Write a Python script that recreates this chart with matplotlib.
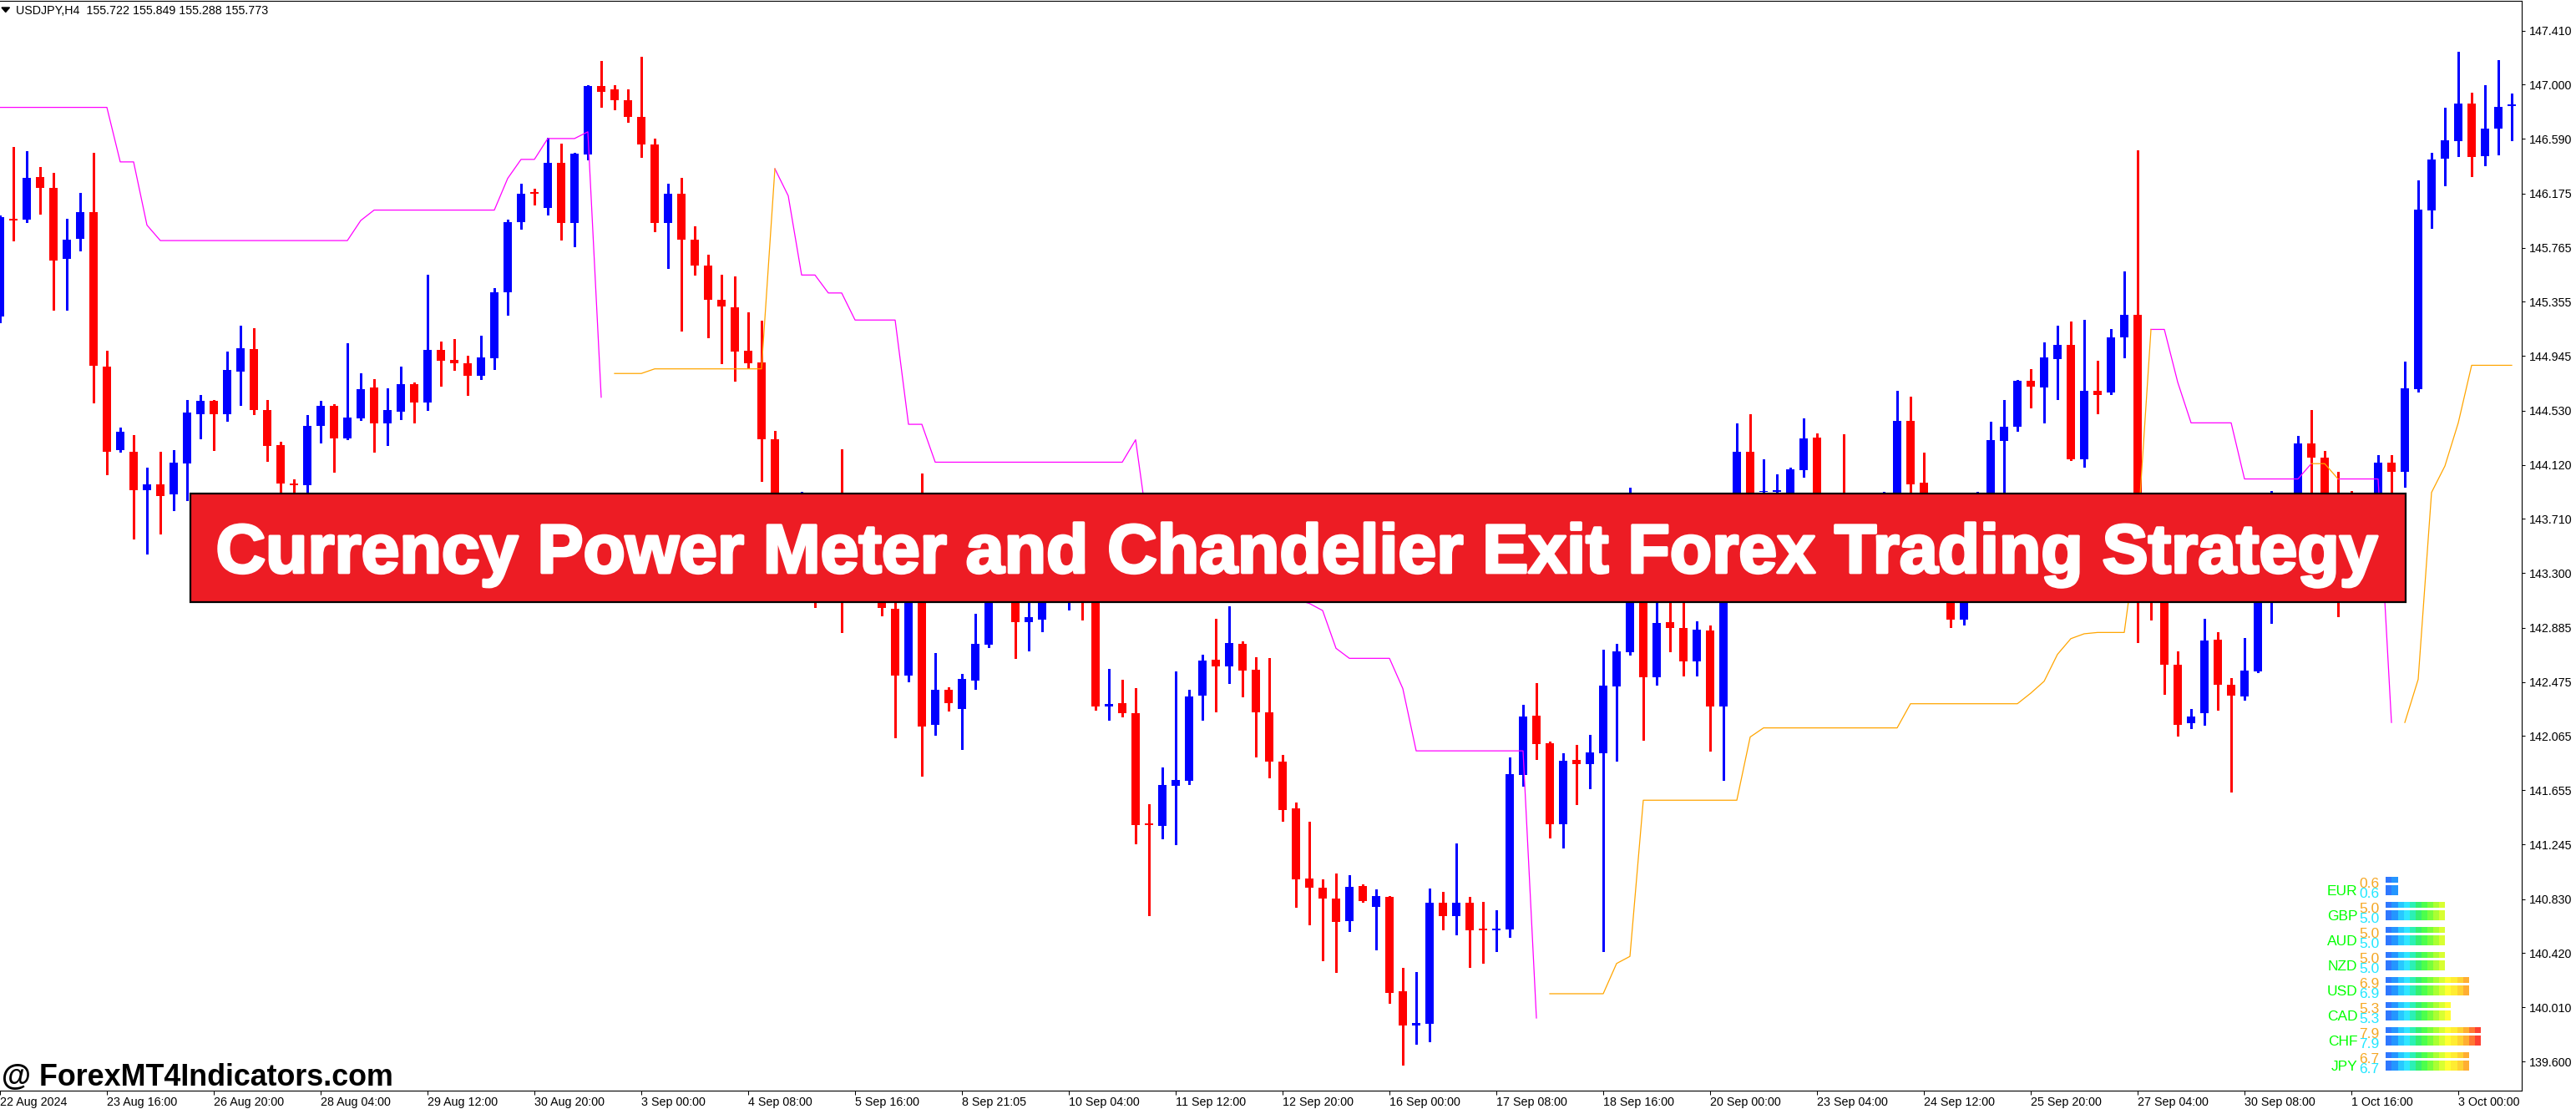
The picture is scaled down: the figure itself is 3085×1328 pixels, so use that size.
import math
import numpy as np
import matplotlib
matplotlib.use("Agg")
import matplotlib.pyplot as plt
from matplotlib.patches import Rectangle, Polygon
import matplotlib.patheffects as pe

plt.rcParams['font.family'] = ['Liberation Sans', 'DejaVu Sans']

nan = float('nan')

# ---------------- data ----------------
symbol_header = "USDJPY,H4  155.722 155.849 155.288 155.773"
title = "Currency Power Meter and Chandelier Exit Forex Trading Strategy"
watermark = "@ ForexMT4Indicators.com"

bar_index = list(range(-1, 188))

opens = [145.246, 145.987, 145.979, 146.301, 146.218, 145.678, 145.829, 146.034, 144.866, 144.234,
         144.218, 143.926, 143.971, 143.894, 144.133, 144.506, 144.602, 144.506, 144.828, 144.996,
         144.535, 144.269, 143.976, 143.968, 144.413, 144.567, 144.322, 144.469, 144.706, 144.437,
         144.525, 144.732, 144.589, 144.991, 144.916, 144.889, 144.796, 144.927, 145.425, 145.957,
         146.183, 146.065, 146.409, 145.950, 146.474, 146.991, 146.962, 146.880, 146.754, 146.546,
         145.950, 146.176, 145.824, 145.627, 145.368, 145.314, 144.987, 144.894, 144.312, 143.65,
         143.55, 143.70, 143.35, 143.60, 143.40, 143.55, 143.35, 143.03, 142.521, 143.30,
         142.147, 142.416, 142.273, 142.488, 142.758, 143.20, 143.30, 142.925, 142.950, 143.30,
         143.20, 143.70, 143.50, 142.286, 142.314, 142.239, 141.405, 141.386, 141.691, 141.723,
         142.374, 142.642, 142.595, 142.761, 142.566, 142.242, 141.874, 141.515, 140.986, 140.914,
         140.832, 140.665, 140.929, 140.772, 140.845, 140.130, 139.875, 139.888, 140.804, 140.703,
         140.804, 140.608, 140.596, 140.602, 141.773, 142.220, 142.011, 141.394, 141.882, 141.850,
         141.938, 142.442, 142.703, 143.50, 142.508, 142.927, 142.883, 142.628, 142.864, 142.291,
         143.50, 144.217, 143.912, 143.912, 143.70, 144.079, 144.327, 143.60, 143.70, 143.40,
         143.70, 143.50, 143.60, 144.453, 143.984, 143.50, 143.30, 142.949, 143.50, 143.70,
         144.302, 144.406, 144.755, 144.708, 144.924, 145.030, 144.165, 144.681, 144.667, 145.084,
         145.255, 143.30, 143.10, 142.604, 142.161, 142.240, 142.796, 142.451, 142.368, 142.556,
         143.30, 143.70, 143.60, 144.282, 144.173, 143.60, 143.50, 143.20, 143.60, 144.136,
         144.064, 144.696, 146.050, 146.442, 146.570, 146.857, 146.457, 146.668, 146.835]

highs = [146.011, 146.527, 146.495, 146.375, 146.335, 145.981, 146.181, 146.484, 144.985, 144.402,
         144.346, 144.099, 144.218, 144.232, 144.612, 144.652, 144.612, 144.977, 145.174, 145.156,
         144.612, 144.296, 144.011, 144.498, 144.605, 144.578, 145.044, 144.815, 144.770, 144.700,
         144.866, 144.746, 145.563, 145.055, 145.073, 144.945, 145.097, 145.459, 145.979, 146.248,
         146.212, 146.600, 146.553, 146.481, 146.995, 147.178, 146.995, 146.966, 147.210, 146.589,
         146.248, 146.294, 145.925, 145.709, 145.558, 145.548, 145.275, 145.214, 144.377, 143.85,
         143.914, 143.85, 143.75, 144.237, 143.70, 143.80, 143.60, 143.20, 143.50, 144.057,
         142.693, 142.434, 142.539, 142.991, 143.50, 143.60, 143.60, 143.10, 143.50, 143.70,
         143.80, 143.85, 143.70, 142.573, 142.491, 142.428, 141.550, 141.827, 142.554, 142.415,
         142.680, 142.953, 143.048, 142.783, 142.664, 142.658, 141.921, 141.562, 141.414, 140.980,
         141.024, 141.011, 140.942, 140.904, 140.854, 140.309, 140.275, 140.911, 140.885, 141.251,
         140.845, 140.810, 140.747, 141.905, 142.302, 142.469, 142.026, 141.932, 142.001, 142.074,
         142.719, 142.763, 143.946, 143.70, 143.20, 143.20, 143.20, 142.933, 142.901, 143.60,
         144.434, 144.504, 144.160, 144.047, 144.10, 144.469, 144.356, 143.85, 144.353, 143.85,
         143.85, 143.915, 144.680, 144.636, 144.211, 143.70, 143.60, 143.70, 143.915, 144.447,
         144.611, 144.765, 144.844, 145.048, 145.175, 145.204, 145.219, 144.906, 145.150, 145.585,
         146.504, 143.60, 143.30, 142.705, 142.270, 142.952, 142.851, 142.502, 142.807, 143.50,
         143.922, 143.85, 144.336, 144.536, 144.227, 144.067, 143.922, 143.80, 144.194, 144.194,
         144.899, 146.272, 146.482, 146.827, 147.252, 146.940, 146.995, 147.187, 146.936]

lows = [145.20, 145.821, 145.960, 146.021, 145.292, 145.292, 145.744, 144.594, 144.045, 144.221,
        143.561, 143.446, 143.601, 143.774, 143.854, 144.317, 144.234, 144.450, 144.573, 144.506,
        144.152, 143.918, 143.902, 143.912, 144.290, 144.064, 144.312, 144.460, 144.221, 144.272,
        144.463, 144.442, 144.538, 144.719, 144.836, 144.652, 144.770, 144.844, 145.254, 145.907,
        146.090, 146.018, 145.828, 145.774, 146.435, 146.833, 146.812, 146.715, 146.449, 145.892,
        145.612, 145.135, 145.562, 145.088, 144.887, 144.754, 144.858, 143.996, 143.55, 143.45,
        143.40, 143.045, 143.20, 142.855, 143.25, 143.30, 142.980, 142.057, 142.481, 141.767,
        142.075, 142.255, 141.964, 142.420, 142.74, 143.10, 142.653, 142.714, 142.856, 143.15,
        143.026, 142.950, 142.261, 142.189, 142.211, 141.251, 140.709, 141.291, 141.244, 141.700,
        142.185, 142.252, 142.469, 142.362, 141.912, 141.751, 141.424, 140.772, 140.637, 140.363,
        140.275, 140.586, 140.807, 140.448, 140.045, 139.576, 139.733, 139.755, 140.599, 140.564,
        140.316, 140.347, 140.438, 140.542, 141.688, 141.890, 141.293, 141.217, 141.548, 141.671,
        140.437, 141.878, 142.680, 142.036, 142.455, 142.709, 142.524, 142.521, 141.954, 141.734,
        143.30, 143.30, 143.50, 143.60, 143.50, 144.031, 143.40, 143.30, 143.30, 143.30,
        143.35, 143.40, 143.50, 143.70, 143.30, 143.10, 142.892, 142.908, 143.30, 143.60,
        143.85, 144.378, 144.554, 144.441, 144.616, 144.158, 144.107, 144.507, 144.656, 144.935,
        142.774, 142.949, 142.386, 142.066, 142.124, 142.150, 142.266, 141.641, 142.342, 142.546,
        142.923, 143.30, 143.50, 143.85, 143.30, 142.974, 143.10, 143.10, 143.40, 143.80,
        143.951, 144.674, 145.912, 146.235, 146.461, 146.304, 146.392, 146.468, 146.577]

closes = [145.997, 145.973, 146.295, 146.216, 145.670, 145.827, 146.034, 144.868, 144.221, 144.370,
          143.926, 143.971, 143.886, 144.136, 144.517, 144.605, 144.506, 144.839, 145.004, 144.533,
          144.266, 143.976, 143.963, 144.415, 144.567, 144.322, 144.479, 144.692, 144.437, 144.535,
          144.732, 144.594, 144.991, 144.911, 144.892, 144.796, 144.935, 145.427, 145.960, 146.176,
          146.176, 146.409, 145.950, 146.478, 146.991, 146.948, 146.880, 146.754, 146.546, 145.950,
          146.176, 145.824, 145.627, 145.368, 145.318, 144.980, 144.887, 144.312, 143.65, 143.55,
          143.70, 143.35, 143.60, 143.40, 143.55, 143.45, 143.034, 142.521, 143.30, 142.140,
          142.416, 142.312, 142.499, 142.765, 143.20, 143.40, 142.926, 142.966, 143.30, 143.50,
          143.60, 143.40, 142.286, 142.305, 142.236, 141.392, 141.389, 141.694, 141.732, 142.365,
          142.635, 142.595, 142.771, 142.563, 142.242, 141.874, 141.505, 140.977, 140.914, 140.835,
          140.659, 140.923, 140.813, 140.851, 140.121, 139.875, 139.891, 140.804, 140.700, 140.804,
          140.596, 140.596, 140.608, 141.776, 142.214, 142.006, 141.400, 141.878, 141.850, 141.942,
          142.445, 142.706, 143.50, 142.508, 142.920, 142.886, 142.628, 142.870, 142.291, 143.40,
          144.217, 143.50, 143.921, 143.928, 144.085, 144.321, 143.60, 143.40, 143.50, 143.70,
          143.50, 143.80, 144.453, 143.975, 143.50, 143.30, 142.949, 143.50, 143.70, 144.305,
          144.409, 144.755, 144.714, 144.935, 145.030, 144.165, 144.681, 144.652, 145.084, 145.255,
          143.30, 143.10, 142.604, 142.150, 142.211, 142.789, 142.455, 142.371, 142.560, 143.30,
          143.70, 143.50, 144.282, 144.173, 143.50, 143.30, 143.20, 143.60, 144.136, 144.064,
          144.699, 146.054, 146.432, 146.577, 146.857, 146.450, 146.668, 146.831, 146.849]

# Chandelier exit: short stop (magenta) and long stop (orange)
stop_short = [146.828, 146.828, 146.828, 146.828, 146.828, 146.828, 146.828, 146.828, 146.828, 146.415,
              146.415, 145.936, 145.819, 145.819, 145.819, 145.819, 145.819, 145.819, 145.819, 145.819,
              145.819, 145.819, 145.819, 145.819, 145.819, 145.819, 145.819, 145.971, 146.050, 146.050,
              146.050, 146.050, 146.050, 146.050, 146.050, 146.050, 146.050, 146.050, 146.290, 146.434,
              146.434, 146.592, 146.592, 146.592, 146.643, 144.632, nan, nan, nan, nan,
              nan, nan, nan, nan, nan, nan, nan, nan, 146.363, 146.158,
              145.558, 145.558, 145.422, 145.422, 145.217, 145.217, 145.217, 145.217, 144.427, 144.427,
              144.140, 144.140, 144.140, 144.140, 144.140, 144.140, 144.140, 144.140, 144.140, 144.140,
              144.140, 144.140, 144.140, 144.140, 144.140, 144.31, 143.58, 143.50, 143.45, 143.45,
              143.40, 143.40, 143.35, 143.30, 143.30, 143.20, 143.15, 143.10, 143.07, 143.016,
              142.730, 142.654, 142.654, 142.654, 142.654, 142.425, 141.953, 141.953, 141.953, 141.953,
              141.953, 141.953, 141.953, 141.953, 141.953, 139.929, nan, nan, nan, nan,
              nan, nan, nan, nan, nan, nan, nan, nan, nan, nan,
              nan, nan, nan, nan, nan, nan, nan, nan, nan, nan,
              nan, nan, nan, nan, nan, nan, nan, nan, nan, nan,
              nan, nan, nan, nan, nan, nan, nan, nan, nan, nan,
              nan, 145.146, 145.146, 144.746, 144.438, 144.438, 144.438, 144.438, 144.013, 144.013,
              144.013, 144.013, 144.013, 144.129, nan, 144.013, 144.013, 144.013, 144.013, 142.168,
              nan, nan, nan, nan, nan, nan, nan, nan, nan]

stop_long = [nan, nan, nan, nan, nan, nan, nan, nan, nan, nan,
             nan, nan, nan, nan, nan, nan, nan, nan, nan, nan,
             nan, nan, nan, nan, nan, nan, nan, nan, nan, nan,
             nan, nan, nan, nan, nan, nan, nan, nan, nan, nan,
             nan, nan, nan, nan, nan, nan, 144.812, 144.812, 144.812, 144.847,
             144.847, 144.847, 144.847, 144.847, 144.847, 144.847, 144.847, 144.847, 146.363, nan,
             nan, nan, nan, nan, nan, nan, nan, nan, nan, nan,
             nan, nan, nan, nan, nan, nan, nan, nan, nan, nan,
             nan, nan, nan, nan, nan, nan, nan, nan, nan, nan,
             nan, nan, nan, nan, nan, nan, nan, nan, nan, nan,
             nan, nan, nan, nan, nan, nan, nan, nan, nan, nan,
             nan, nan, nan, nan, nan, nan, 140.113, 140.113, 140.113, 140.113,
             140.113, 140.342, 140.396, 141.579, 141.579, 141.579, 141.579, 141.579, 141.579, 141.579,
             141.579, 142.058, 142.127, 142.127, 142.127, 142.127, 142.127, 142.127, 142.127, 142.127,
             142.127, 142.127, 142.127, 142.310, 142.310, 142.310, 142.310, 142.310, 142.310, 142.310,
             142.310, 142.310, 142.39, 142.48, 142.684, 142.803, 142.84, 142.850, 142.850, 142.850,
             143.60, 145.146, nan, nan, nan, nan, nan, nan, nan, nan,
             nan, nan, nan, 144.129, 144.129, 144.013, nan, nan, nan, nan,
             142.168, 142.495, 143.911, 144.111, 144.438, 144.874, 144.874, 144.874, 144.874]

time_labels = ["22 Aug 2024", "23 Aug 16:00", "26 Aug 20:00", "28 Aug 04:00", "29 Aug 12:00",
               "30 Aug 20:00", "3 Sep 00:00", "4 Sep 08:00", "5 Sep 16:00", "8 Sep 21:05",
               "10 Sep 04:00", "11 Sep 12:00", "12 Sep 20:00", "16 Sep 00:00", "17 Sep 08:00",
               "18 Sep 16:00", "20 Sep 00:00", "23 Sep 04:00", "24 Sep 12:00", "25 Sep 20:00",
               "27 Sep 04:00", "30 Sep 08:00", "1 Oct 16:00", "3 Oct 00:00"]

price_ticks = [147.410, 147.000, 146.590, 146.175, 145.765, 145.355, 144.945, 144.530, 144.120,
               143.710, 143.300, 142.885, 142.475, 142.065, 141.655, 141.245, 140.830, 140.420,
               140.010, 139.600]

currencies = ["EUR", "GBP", "AUD", "NZD", "USD", "CAD", "CHF", "JPY"]
strength_prev = [0.6, 5.0, 5.0, 5.0, 6.9, 5.3, 7.9, 6.7]
strength_now = [0.6, 5.0, 5.0, 5.0, 6.9, 5.3, 7.9, 6.7]

meter_colors = ['#2F78FF', '#2496FF', '#28C8FF', '#30E6FF', '#2CF0B4', '#34F070',
                '#4CFF4C', '#78FF3C', '#AAFF32', '#D8FF32', '#FFFF32', '#FFEC32',
                '#FFD232', '#FFAE32', '#FF7832', '#FF4032']

# ---------------- figure ----------------
W, H, DPI = 3085, 1328, 100
fig = plt.figure(figsize=(W / DPI, H / DPI), dpi=DPI, facecolor='white')


def box(x0, y0, x1, y1):
    return [x0 / W, 1 - y1 / H, (x1 - x0) / W, (y1 - y0) / H]


ax = fig.add_axes(box(0, 0.5, 3020, 1305.5))
ax.set_facecolor('white')

x = np.array(bar_index, dtype=float)
o = np.array(opens)
hi = np.array(highs)
lo = np.array(lows)
c = np.array(closes)
col = np.where(c >= o, '#0000FF', '#FF0000')

ax.vlines(x, lo, hi, colors=col, linewidth=0.85, zorder=2, antialiased=False)
ax.bar(x, np.maximum(np.abs(c - o), 0.009), bottom=np.minimum(o, c), width=0.68,
       color=col, linewidth=0, zorder=3, antialiased=False)
ax.plot(x, stop_short, color='#FF00FF', lw=0.9, zorder=4)
ax.plot(x, stop_long, color='#FFA500', lw=0.9, zorder=4)

bar_px = 16.008
first_px = 14.5
ax.set_xlim(-first_px / bar_px, (3020 - first_px) / bar_px)
px_per_price = 158.06
ax.set_ylim(147.41 - (1305.5 - 36.6) / px_per_price, 147.41 + (36.6 - 0.5) / px_per_price)

ax.yaxis.tick_right()
ax.set_yticks(price_ticks)
ax.set_yticklabels([f"{v:.3f}" for v in price_ticks])
ax.set_xticks(bar_index[::8])
ax.set_xticklabels(time_labels, ha='left')
ax.tick_params(axis='y', direction='out', length=3, width=0.75, pad=3.4,
               labelsize=10.3, right=True, left=False, colors='black')
ax.tick_params(axis='x', direction='out', length=3.7, width=0.75, pad=1.6,
               labelsize=10.3, colors='black')
for s in ['top', 'right', 'bottom']:
    ax.spines[s].set_linewidth(0.8)
    ax.spines[s].set_color('black')
ax.spines['left'].set_visible(False)

# overlay in pixel coordinates
ov = fig.add_axes([0, 0, 1, 1], zorder=10)
ov.set_xlim(0, W)
ov.set_ylim(H, 0)
ov.axis('off')

ov.add_patch(Polygon([[2, 9], [11.5, 9], [6.75, 14.5]], closed=True, color='black'))
ov.text(19, 17.3, symbol_header, fontsize=10.3, ha='left', va='baseline', color='black')

ov.add_patch(Rectangle((228, 591), 2653, 130, facecolor='#ED1C24', edgecolor='black',
                       linewidth=1.6, zorder=2))
tt = ov.text(1554.5, 685.7, title, color='white', fontsize=50, fontweight='bold',
             ha='center', va='baseline', zorder=3,
             path_effects=[pe.withStroke(linewidth=2.4, foreground='white')])
wm = ov.text(2, 1300, watermark, fontsize=20, fontweight='bold', ha='left',
             va='baseline', color='black', zorder=3)

fig.canvas.draw()
r = fig.canvas.get_renderer()
tt.set_fontsize(50 * 2590 / tt.get_window_extent(r).width)
wm.set_fontsize(20 * 469 / wm.get_window_extent(r).width)

# currency power meter
mx = fig.add_axes(box(2857.3, 1045, 2857.3 + 142, 1285), zorder=11)
mx.set_xlim(0, 10)
mx.set_ylim(8, 0)
mx.axis('off')
for i, (vp, vn) in enumerate(zip(strength_prev, strength_now)):
    for val, off, hh in ((vp, 5 / 30, 6.7 / 30), (vn, 15 / 30, 11.7 / 30)):
        n = math.ceil(val * 2 - 1e-9)
        mx.barh(np.full(n, i + off), np.full(n, 0.5), left=np.arange(n) * 0.5, height=hh,
                align='edge', color=meter_colors[:n], linewidth=0)

for i, name in enumerate(currencies):
    yb = 1050 + 30 * i
    ov.text(2823.5, yb + 22.3, name, color='#00FF00', fontsize=12.5, ha='right', va='baseline')
    ov.text(2825, yb + 12.7, f"{strength_prev[i]:.1f}", color='#F5A623', fontsize=12.5,
            ha='left', va='baseline')
    ov.text(2825, yb + 25, f"{strength_now[i]:.1f}", color='#22E6FF', fontsize=12.5,
            ha='left', va='baseline')

fig.savefig('out.png', dpi=DPI, facecolor='white')
